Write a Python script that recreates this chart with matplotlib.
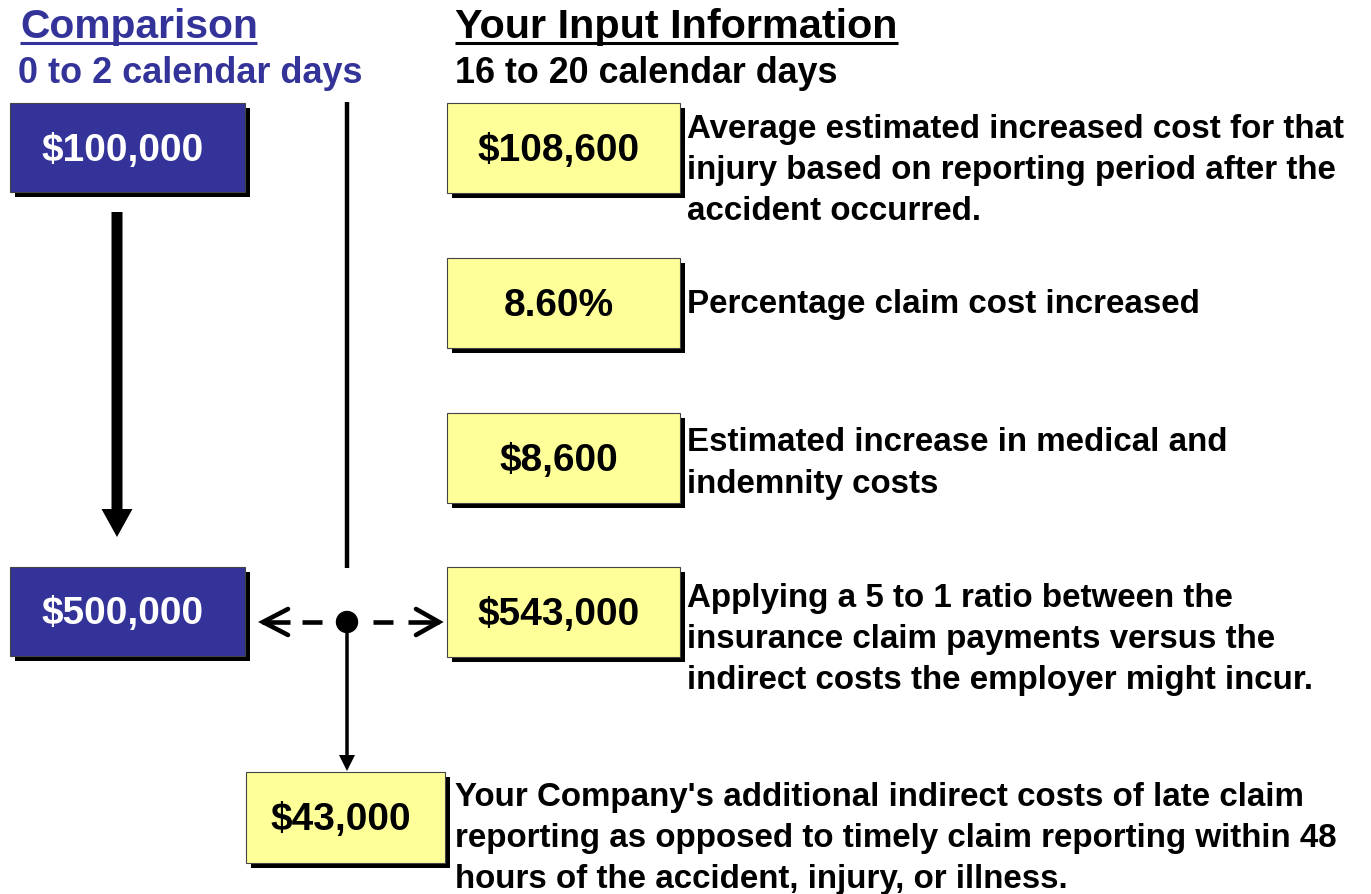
import matplotlib
matplotlib.use("Agg")
import matplotlib.pyplot as plt
from matplotlib.patches import Rectangle, Circle

# ---- data ----
left_title = "Comparison"
left_period = "0 to 2 calendar days"
right_title = "Your Input Information"
right_period = "16 to 20 calendar days"
comparison_values = ["$100,000", "$500,000"]
input_values = ["$108,600", "8.60%", "$8,600", "$543,000"]
input_descriptions = [
    "Average estimated increased cost for that\ninjury based on reporting period after the\naccident occurred.",
    "Percentage claim cost increased",
    "Estimated increase in medical and\nindemnity costs",
    "Applying a 5 to 1 ratio between the\ninsurance claim payments versus the\nindirect costs the employer might incur.",
]
result_value = "$43,000"
result_description = ("Your Company's additional indirect costs of late claim\n"
                      "reporting as opposed to timely claim reporting within 48\n"
                      "hours of the accident, injury, or illness.")

BLUE = "#333399"
YELLOW = "#FFFF99"
FONT = "Liberation Sans"

W, H = 1371, 895
fig = plt.figure(figsize=(W / 100, H / 100), dpi=100)
ax = fig.add_axes([0, 0, 1, 1])
ax.set_xlim(0, W)
ax.set_ylim(H, 0)
ax.axis("off")

BOX_FS = 28
DESC_FS = 23.9
DESC_LS = 1.42
LINE_STEP = 41.5  # pixel distance between description lines


def box(x0, y0, w, h, face, text, tcolor):
    ax.add_patch(Rectangle((x0 + 4.5, y0 + 4.5), w, h, facecolor="black",
                           edgecolor="none", zorder=2))
    ax.add_patch(Rectangle((x0, y0), w, h, facecolor=face,
                           edgecolor="#444444", linewidth=0.8, zorder=3))
    ax.text(x0 + w / 2 - 5, y0 + h / 2 + 12, text, ha="center", va="baseline",
            color=tcolor, fontsize=BOX_FS, fontweight="bold", family=FONT, zorder=4)


def desc(x, first_baseline, text):
    n = text.count("\n")
    ax.text(x, first_baseline + n * LINE_STEP, text, ha="left", va="baseline",
            color="black", fontsize=DESC_FS, fontweight="bold", family=FONT,
            linespacing=DESC_LS)


# headers
ax.text(20, 38, left_title, ha="left", va="baseline", color=BLUE, fontsize=29.3,
        fontweight="bold", family=FONT)
ax.plot([20, 257], [43.5, 43.5], color=BLUE, lw=2.2, solid_capstyle="butt")
ax.text(18, 83, left_period, ha="left", va="baseline", color=BLUE, fontsize=25.9,
        fontweight="bold", family=FONT)
ax.text(455, 38, right_title, ha="left", va="baseline", color="black", fontsize=29.8,
        fontweight="bold", family=FONT)
ax.plot([455, 898], [43.5, 43.5], color="black", lw=2.2, solid_capstyle="butt")
ax.text(455, 83, right_period, ha="left", va="baseline", color="black", fontsize=25.8,
        fontweight="bold", family=FONT)

# comparison boxes
left_tops = [104, 568]
for v, t in zip(comparison_values, left_tops):
    box(10, t, 235, 89, BLUE, v, "white")

# input boxes with descriptions
right_tops = [104, 259, 414, 568]
desc_baselines = [137, 313, 451, 606]
for v, d, t, b in zip(input_values, input_descriptions, right_tops, desc_baselines):
    box(447, t, 233, 90, YELLOW, v, "black")
    desc(687, b, d)

# result box
box(246, 773, 199, 91, YELLOW, result_value, "black")
desc(455, 805, result_description)

# big vertical arrow
ax.arrow(117, 213, 0, 325, width=11, head_width=31, head_length=28,
         length_includes_head=True, color="black", lw=0)
# middle vertical line
ax.plot([347, 347], [103, 569], color="black", lw=3.2, solid_capstyle="butt")
# dashed connector with open arrow heads
LW = 3.3
ax.plot([262, 290], [623, 623], color="black", lw=LW, solid_capstyle="butt")
ax.plot([288, 263, 288], [610, 623, 636], color="black", lw=LW,
        solid_joinstyle="miter", solid_capstyle="round")
for xs in ([302, 322], [373, 393]):
    ax.plot(xs, [623, 623], color="black", lw=LW, solid_capstyle="butt")
ax.plot([408, 439], [623, 623], color="black", lw=LW, solid_capstyle="butt")
ax.plot([416, 439, 416], [610, 623, 636], color="black", lw=LW,
        solid_joinstyle="miter", solid_capstyle="round")
ax.add_patch(Circle((347, 623), 10.5, color="black", zorder=5))
# arrow down to result box
ax.arrow(347, 623, 0, 149, width=3.5, head_width=16, head_length=16,
         length_includes_head=True, color="black", lw=0)

fig.savefig("out.png", dpi=100)
